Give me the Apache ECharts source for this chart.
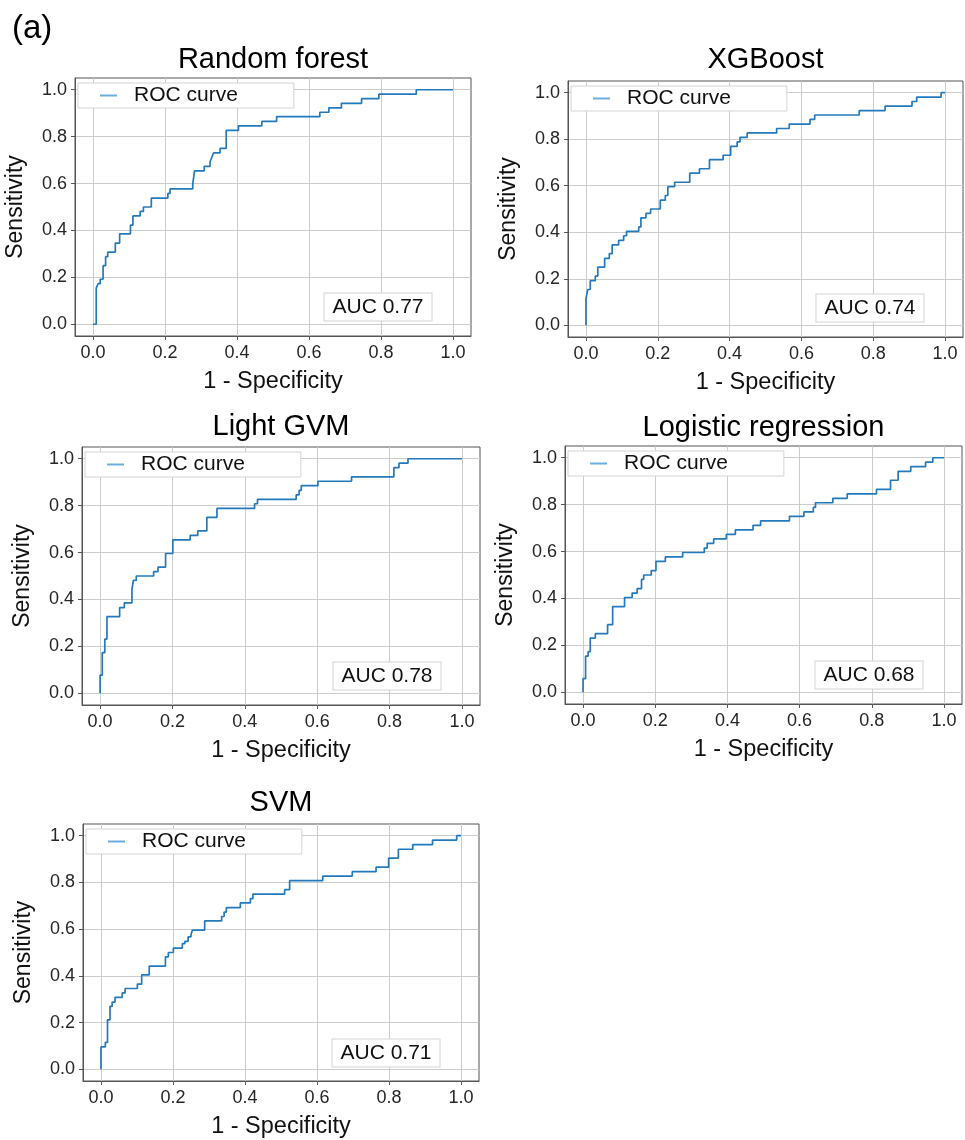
<!DOCTYPE html>
<html>
<head>
    <meta charset="utf-8">
    <title>ROC curves</title>
    <script src="https://cdn.jsdelivr.net/npm/echarts@6.0.0/dist/echarts.min.js"></script>
    <style>
        html, body { margin: 0; padding: 0; background: #fff; }
        #chart { width: 965px; height: 1140px; }
    </style>
</head>
<body>
<div id="chart"></div>
<script>
    var FONT = '"Liberation Sans", Arial, Helvetica, sans-serif';

    // panel titles and AUC values
    var modelNames = ['Random forest', 'XGBoost', 'Light GVM', 'Logistic regression', 'SVM'];
    var aucLabels = ['AUC 0.77', 'AUC 0.74', 'AUC 0.78', 'AUC 0.68', 'AUC 0.71'];
    var xTicks = [0, 0.2, 0.4, 0.6, 0.8, 1.0];
    var yTicks = [0, 0.2, 0.4, 0.6, 0.8, 1.0];

    // ROC points (1 - specificity, sensitivity)
    var rfFpr = [0, 0.009, 0.014, 0.020, 0.028, 0.035, 0.041, 0.062, 0.074, 0.104, 0.111, 0.131, 0.140, 0.162, 0.208, 0.214, 0.277, 0.282, 0.309, 0.325, 0.330, 0.335, 0.353, 0.370, 0.404, 0.469, 0.510, 0.630, 0.655, 0.690, 0.746, 0.794, 0.898, 1.0];
    var rfTpr = [0, 0.154, 0.173, 0.192, 0.250, 0.288, 0.308, 0.346, 0.385, 0.423, 0.462, 0.481, 0.500, 0.538, 0.558, 0.577, 0.596, 0.654, 0.673, 0.692, 0.712, 0.731, 0.750, 0.827, 0.846, 0.865, 0.885, 0.904, 0.923, 0.942, 0.962, 0.981, 1.0, 1.0];

    var xgbFpr = [0, 0, 0.005, 0.012, 0.026, 0.033, 0.052, 0.065, 0.073, 0.091, 0.105, 0.113, 0.147, 0.153, 0.167, 0.180, 0.207, 0.221, 0.228, 0.247, 0.289, 0.316, 0.344, 0.382, 0.403, 0.421, 0.429, 0.449, 0.531, 0.566, 0.624, 0.637, 0.761, 0.833, 0.908, 0.921, 0.989, 1.0];
    var xgbTpr = [0, 0.115, 0.154, 0.192, 0.212, 0.250, 0.288, 0.308, 0.346, 0.365, 0.385, 0.404, 0.423, 0.462, 0.481, 0.500, 0.538, 0.558, 0.596, 0.615, 0.654, 0.673, 0.712, 0.731, 0.769, 0.788, 0.808, 0.827, 0.846, 0.865, 0.885, 0.904, 0.923, 0.942, 0.962, 0.981, 1.0, 1.0];

    var lgbFpr = [0, 0, 0.006, 0.013, 0.019, 0.054, 0.067, 0.088, 0.092, 0.100, 0.148, 0.160, 0.181, 0.201, 0.249, 0.270, 0.295, 0.323, 0.427, 0.435, 0.542, 0.550, 0.556, 0.602, 0.695, 0.812, 0.826, 0.851, 1.0];
    var lgbTpr = [0, 0.077, 0.173, 0.231, 0.327, 0.365, 0.385, 0.442, 0.481, 0.500, 0.519, 0.538, 0.596, 0.654, 0.673, 0.692, 0.750, 0.788, 0.808, 0.827, 0.846, 0.865, 0.885, 0.904, 0.923, 0.962, 0.981, 1.0, 1.0];

    var lrFpr = [0, 0, 0.007, 0.014, 0.020, 0.034, 0.068, 0.082, 0.115, 0.136, 0.150, 0.162, 0.168, 0.189, 0.202, 0.228, 0.276, 0.336, 0.344, 0.362, 0.397, 0.422, 0.471, 0.492, 0.572, 0.612, 0.638, 0.644, 0.692, 0.732, 0.813, 0.852, 0.873, 0.908, 0.949, 0.969, 1.0];
    var lrTpr = [0, 0.058, 0.154, 0.173, 0.231, 0.250, 0.288, 0.365, 0.404, 0.423, 0.442, 0.481, 0.500, 0.519, 0.558, 0.577, 0.596, 0.615, 0.635, 0.654, 0.673, 0.692, 0.712, 0.731, 0.750, 0.769, 0.788, 0.808, 0.827, 0.846, 0.865, 0.904, 0.942, 0.962, 0.981, 1.0, 1.0];

    var svmFpr = [0, 0, 0.012, 0.018, 0.025, 0.031, 0.039, 0.059, 0.067, 0.101, 0.113, 0.134, 0.179, 0.187, 0.201, 0.226, 0.233, 0.242, 0.250, 0.254, 0.288, 0.335, 0.342, 0.348, 0.387, 0.415, 0.422, 0.510, 0.524, 0.616, 0.698, 0.764, 0.799, 0.826, 0.866, 0.921, 0.988, 1.0];
    var svmTpr = [0, 0.096, 0.115, 0.212, 0.269, 0.288, 0.308, 0.327, 0.346, 0.365, 0.404, 0.442, 0.481, 0.500, 0.519, 0.538, 0.548, 0.567, 0.577, 0.596, 0.635, 0.654, 0.673, 0.692, 0.712, 0.731, 0.750, 0.769, 0.808, 0.827, 0.846, 0.865, 0.904, 0.942, 0.962, 0.981, 1.0, 1.0];

    var curves = [[rfFpr, rfTpr], [xgbFpr, xgbTpr], [lgbFpr, lgbTpr], [lrFpr, lrTpr], [svmFpr, svmTpr]];

    // plot boxes in pixels (titleY = vertical centre of the panel title)
    var panels = [
        {left: 75, top: 78, width: 396, height: 258, titleY: 60},
        {left: 568, top: 81, width: 395, height: 256, titleY: 60},
        {left: 82, top: 447, width: 398, height: 258, titleY: 427},
        {left: 565, top: 446, width: 397, height: 258, titleY: 427.5},
        {left: 83, top: 824, width: 396, height: 258, titleY: 803}
    ];

    var grids = [], xAxes = [], yAxes = [], series = [], legends = [], graphics = [];

    panels.forEach(function (p, i) {
        grids.push({
            left: p.left, top: p.top, width: p.width, height: p.height,
            show: true, borderColor: '#555', borderWidth: 1, backgroundColor: '#fff'
        });
        xAxes.push({
            gridIndex: i, type: 'value', min: -0.05, max: 1.05,
            axisLine: {show: true, onZero: false, lineStyle: {color: '#555', width: 1}},
            axisTick: {show: true, length: 4, customValues: xTicks, lineStyle: {color: '#555'}},
            axisLabel: {
                customValues: xTicks, margin: 8, fontSize: 18, color: '#262626', fontFamily: FONT,
                formatter: function (v) { return v.toFixed(1); }
            },
            splitLine: {show: true, lineStyle: {color: '#cccccc', width: 1}},
            name: '1 - Specificity', nameLocation: 'middle', nameGap: 34,
            nameTextStyle: {fontSize: 23.5, color: '#111', fontFamily: FONT}
        });
        yAxes.push({
            gridIndex: i, type: 'value', min: -0.05, max: 1.05,
            axisLine: {show: true, onZero: false, lineStyle: {color: '#555', width: 1}},
            axisTick: {show: true, length: 4, customValues: yTicks, lineStyle: {color: '#555'}},
            axisLabel: {
                customValues: yTicks, margin: 8, fontSize: 18, color: '#262626', fontFamily: FONT,
                formatter: function (v) { return v.toFixed(1); }
            },
            splitLine: {show: true, lineStyle: {color: '#cccccc', width: 1}},
            name: 'Sensitivity', nameLocation: 'middle', nameGap: 48,
            nameTextStyle: {fontSize: 23, color: '#111', fontFamily: FONT}
        });
        var fpr = curves[i][0], tpr = curves[i][1];
        series.push({
            type: 'line', name: 'ROC curve', xAxisIndex: i, yAxisIndex: i,
            data: fpr.map(function (x, j) { return [x, tpr[j]]; }),
            step: 'end', symbol: 'none', showSymbol: false,
            lineStyle: {color: '#2479bc', width: 1.7},
            itemStyle: {color: '#2479bc'}
        });
        legends.push({
            left: p.left + 3, top: p.top + 5,
            data: [{name: 'ROC curve', icon: 'rect'}], selectedMode: false,
            itemWidth: 17, itemHeight: 2,
            itemStyle: {color: '#6aaee0', borderWidth: 0},
            padding: [2, 56, 2, 22],
            backgroundColor: '#fff', borderColor: '#d4d4d4', borderWidth: 1,
            textStyle: {fontSize: 21, lineHeight: 21, color: '#111', fontFamily: FONT, padding: [0, 0, 0, 12]}
        });
        // panel title
        graphics.push({
            type: 'text', z: 100,
            style: {
                text: modelNames[i], x: p.left + p.width / 2, y: p.titleY,
                align: 'center', verticalAlign: 'middle',
                fontSize: 29, fontFamily: FONT, fill: '#000'
            }
        });
        // AUC box
        graphics.push({
            type: 'text', z: 100,
            style: {
                text: aucLabels[i], x: p.left + p.width - 93, y: p.top + p.height - 29,
                align: 'center', verticalAlign: 'middle',
                fontSize: 21, lineHeight: 21, fontFamily: FONT, fill: '#111',
                backgroundColor: '#fff', borderColor: '#d4d4d4', borderWidth: 1,
                padding: [3, 8, 3, 8]
            }
        });
    });

    graphics.push({
        type: 'text',
        style: {text: '(a)', x: 12, y: 29, align: 'left', verticalAlign: 'middle', fontSize: 33, fontFamily: FONT, fill: '#000'}
    });

    var chart = echarts.init(document.getElementById('chart'), null, {renderer: 'canvas'});
    chart.setOption({
        animation: false,
        backgroundColor: '#fff',
        grid: grids,
        xAxis: xAxes,
        yAxis: yAxes,
        legend: legends,
        series: series,
        graphic: graphics
    });
</script>
</body>
</html>
